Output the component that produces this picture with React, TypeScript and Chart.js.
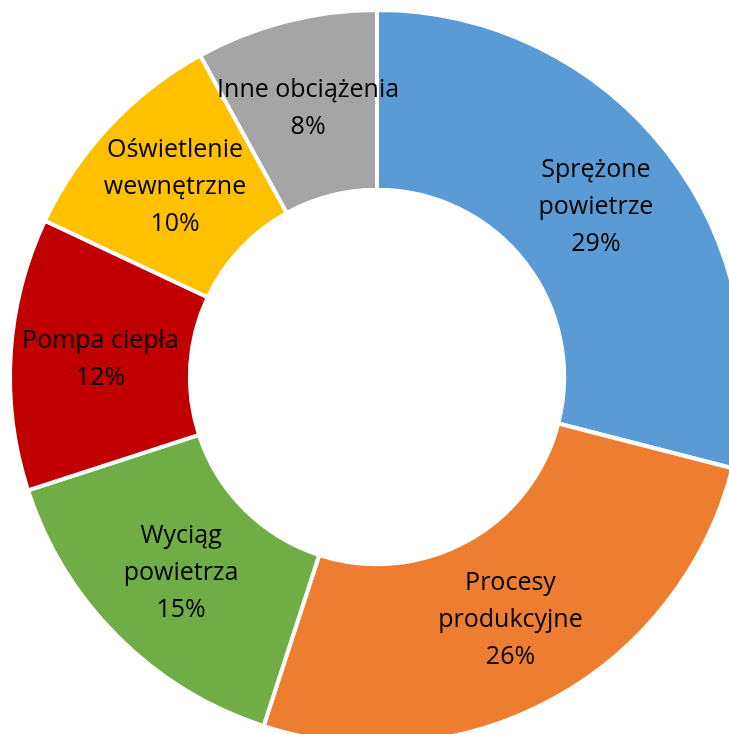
import React, { useEffect, useRef } from "react";
import { Chart, registerables } from "chart.js";

Chart.register(...registerables);

const categories = [
  "Sprężone\npowietrze",
  "Procesy\nprodukcyjne",
  "Wyciąg\npowietrza",
  "Pompa ciepła",
  "Oświetlenie\nwewnętrzne",
  "Inne obciążenia",
];
const values = [29, 26, 15, 12, 10, 8];
const colors = ["#5B9BD5", "#ED7D31", "#70AD47", "#C00000", "#FFC000", "#A5A5A5"];

const labelPlugin = {
  id: "segLabels",
  afterDatasetsDraw(chart: any) {
    const ctx = chart.ctx;
    const meta = chart.getDatasetMeta(0);
    const total = values.reduce((a, b) => a + b, 0);
    ctx.save();
    ctx.font = "25px 'Open Sans'";
    ctx.fillStyle = "#000000";
    ctx.textAlign = "center";
    ctx.textBaseline = "middle";
    const lh = 37;
    meta.data.forEach((arc: any, i: number) => {
      const p = arc.getCenterPoint();
      const lines = categories[i].split("\n");
      lines.push(Math.round((values[i] / total) * 100) + "%");
      const n = lines.length;
      lines.forEach((ln: string, k: number) => {
        ctx.fillText(ln, p.x, p.y + (k - (n - 1) / 2) * lh);
      });
    });
    ctx.restore();
  },
};

export default function App() {
  const ref = useRef<HTMLCanvasElement>(null);
  useEffect(() => {
    if (!ref.current) return;
    const chart = new Chart(ref.current, {
      type: "doughnut",
      data: {
        labels: categories.map((c) => c.replace("\n", " ")),
        datasets: [
          {
            data: values,
            backgroundColor: colors,
            borderColor: "#ffffff",
            borderWidth: 4,
          },
        ],
      },
      options: {
        animation: false,
        responsive: false,
        maintainAspectRatio: false,
        cutout: "51%",
        layout: { padding: 8 },
        plugins: {
          legend: { display: false },
          tooltip: { enabled: false },
        },
      },
      plugins: [labelPlugin],
    });
    return () => chart.destroy();
  }, []);
  return (
    <div style={{ position: "fixed", left: 0, top: 0, width: "100vw", height: "100vh", overflow: "hidden", background: "#fff" }}>
      <canvas ref={ref} width={754} height={754} style={{ display: "block", width: 754, height: 754 }} />
    </div>
  );
}
